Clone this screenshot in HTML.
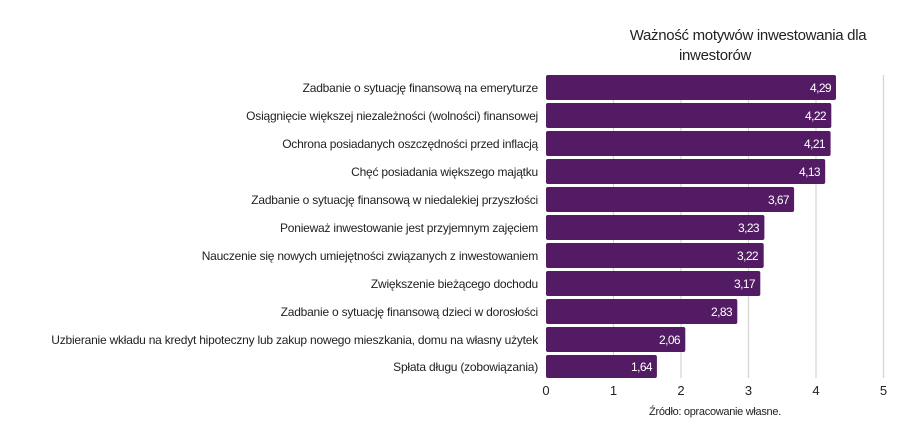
<!DOCTYPE html>
<html><head><meta charset="utf-8"><style>
body{margin:0;background:#fff;}
svg{display:block;font-family:"Liberation Sans",sans-serif;}
</style></head><body>
<svg width="915" height="436" xmlns="http://www.w3.org/2000/svg">
<text x="748" y="40" font-size="15" text-anchor="middle" fill="#222" letter-spacing="-0.3">Ważność motywów inwestowania dla</text>
<text x="715" y="60" font-size="15" text-anchor="middle" fill="#222" letter-spacing="-0.3">inwestorów</text>
<g stroke="#d4d4d4" stroke-width="1.2">
<line x1="613.5" y1="75" x2="613.5" y2="378"/>
<line x1="681" y1="75" x2="681" y2="378"/>
<line x1="748.5" y1="75" x2="748.5" y2="378"/>
<line x1="816" y1="75" x2="816" y2="378"/>
<line x1="883.5" y1="75" x2="883.5" y2="378"/>
</g>
<g fill="#521b63">
<rect x="546" y="75" width="290" height="25" rx="2"/>
<rect x="546" y="103" width="285.3" height="25" rx="2"/>
<rect x="546" y="131" width="284.6" height="25" rx="2"/>
<rect x="546" y="159" width="279.2" height="25" rx="2"/>
<rect x="546" y="187" width="248.1" height="25" rx="2"/>
<rect x="546" y="215" width="218.4" height="25" rx="2"/>
<rect x="546" y="243" width="217.7" height="25" rx="2"/>
<rect x="546" y="271" width="214.3" height="25" rx="2"/>
<rect x="546" y="299" width="191.3" height="25" rx="2"/>
<rect x="546" y="327" width="139.3" height="25" rx="2"/>
<rect x="546" y="355" width="110.9" height="23" rx="2"/>
</g>
<g fill="#fff" font-size="12" text-anchor="end" letter-spacing="-0.6">
<text x="831" y="92">4,29</text>
<text x="826" y="120">4,22</text>
<text x="825" y="148">4,21</text>
<text x="820" y="176">4,13</text>
<text x="789" y="204">3,67</text>
<text x="759" y="232">3,23</text>
<text x="758" y="260">3,22</text>
<text x="755" y="288">3,17</text>
<text x="732" y="316">2,83</text>
<text x="680" y="344">2,06</text>
<text x="652" y="371">1,64</text>
</g>
<g fill="#222" font-size="12" text-anchor="end" letter-spacing="-0.22">
<text x="538" y="92">Zadbanie o sytuację finansową na emeryturze</text>
<text x="538" y="120">Osiągnięcie większej niezależności (wolności) finansowej</text>
<text x="538" y="148">Ochrona posiadanych oszczędności przed inflacją</text>
<text x="538" y="176">Chęć posiadania większego majątku</text>
<text x="538" y="204">Zadbanie o sytuację finansową w niedalekiej przyszłości</text>
<text x="538" y="232">Ponieważ inwestowanie jest przyjemnym zajęciem</text>
<text x="538" y="260">Nauczenie się nowych umiejętności związanych z inwestowaniem</text>
<text x="538" y="288">Zwiększenie bieżącego dochodu</text>
<text x="538" y="316">Zadbanie o sytuację finansową dzieci w dorosłości</text>
<text x="538" y="344">Uzbieranie wkładu na kredyt hipoteczny lub zakup nowego mieszkania, domu na własny użytek</text>
<text x="538" y="371">Spłata długu (zobowiązania)</text>
</g>
<g fill="#222" font-size="13" text-anchor="middle">
<text x="546" y="395">0</text>
<text x="613.5" y="395">1</text>
<text x="681" y="395">2</text>
<text x="748.5" y="395">3</text>
<text x="816" y="395">4</text>
<text x="883.5" y="395">5</text>
</g>
<text x="715" y="415" font-size="11" text-anchor="middle" fill="#222" letter-spacing="-0.3">Źródło: opracowanie własne.</text>
</svg>
</body></html>
